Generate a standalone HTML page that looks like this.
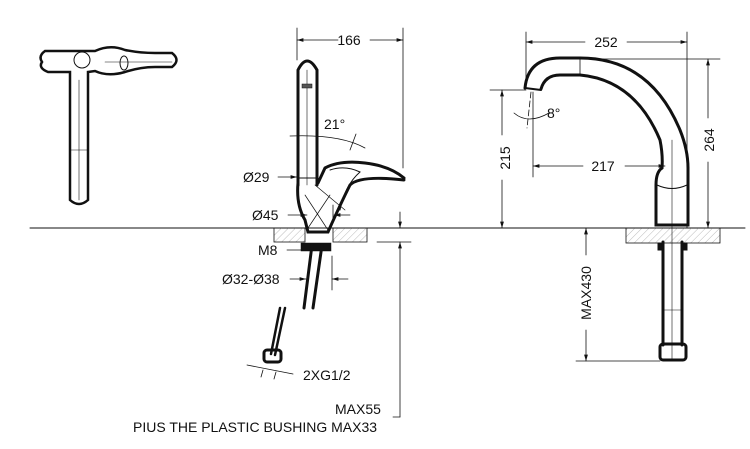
<!DOCTYPE html>
<html><head><meta charset="utf-8"><style>
html,body{margin:0;padding:0;background:#fff}
svg{display:block}
text{font-family:"Liberation Sans",sans-serif;font-size:14px;fill:#111}
</style></head><body>
<svg width="750" height="449" viewBox="0 0 750 449" xmlns="http://www.w3.org/2000/svg">
<defs>
<pattern id="h" width="5" height="5" patternUnits="userSpaceOnUse" patternTransform="rotate(45)"><line x1="0" y1="0" x2="0" y2="5" stroke="#bbb" stroke-width="1"/></pattern>
<marker id="a" viewBox="0 0 10 6" refX="10" refY="3" markerWidth="8" markerHeight="5" orient="auto-start-reverse"><path d="M0,0L10,3L0,6z" fill="#111"/></marker>
</defs>
<g fill="none" stroke="#111" stroke-linecap="round">
<!-- Top view -->
<path d="M45,51 L95,51 Q110,44 125,50 Q140,53 155,53 L172,53 Q181,60 172,67 L155,67 Q140,67 125,72 Q108,77 95,71 L88,72 L88,200 Q79,208 70,200 L70,72 L48,72 Q38,68 42,62 Q38,56 45,51 Z" stroke-width="2.5"/>
<line x1="79" y1="80" x2="79" y2="200" stroke-width="0.6"/>
<line x1="70" y1="150" x2="88" y2="150" stroke-width="0.6"/>
<line x1="105" y1="62" x2="172" y2="62" stroke-width="0.6"/>
<ellipse cx="124" cy="63" rx="4" ry="7" stroke-width="1"/>
<circle cx="82" cy="60" r="8" stroke-width="1"/>
<!-- counter line -->
<line x1="30" y1="228" x2="745" y2="228" stroke-width="1"/>
<!-- middle faucet plate -->
<rect x="274" y="228" width="31" height="14" fill="url(#h)" stroke-width="0.8"/>
<rect x="333" y="228" width="34" height="14" fill="url(#h)" stroke-width="0.8"/>
<!-- lever -->
<path d="M298,185 L298,70 Q307,52 317,70 L317,185" stroke-width="3"/>
<line x1="307" y1="70" x2="307" y2="185" stroke-width="0.6"/>
<rect x="302" y="84" width="10" height="4" fill="#555" stroke-width="0.5"/>
<!-- body -->
<path d="M298,183 Q296,205 305,220 L308,232 L328,232 Q340,205 350,185 Q360,175 404,180" stroke-width="3"/>
<path d="M318,183 L325,168 Q340,160 365,163 Q390,166 404,178" stroke-width="3"/>
<path d="M330,170 Q345,165 360,172 Q345,185 340,210" stroke-width="1"/>
<path d="M305,195 L328,230 M330,195 L308,228 M315,185 L345,210" stroke-width="0.7"/>
<line x1="299" y1="178" x2="317" y2="178" stroke-width="1"/>
<!-- hose below -->
<rect x="301" y="243" width="30" height="8" fill="#111" stroke-width="0.5"/>
<path d="M312,245 L304,308 M322,245 L313,308" stroke-width="3"/>
<path d="M285,308 L275,355 M280,308 L271,354" stroke-width="2.5"/>
<rect x="264" y="350" width="17" height="12" rx="3" stroke-width="3"/>
<!-- dimension 166 -->
<line x1="297" y1="28" x2="297" y2="60" stroke-width="0.8"/>
<line x1="403" y1="28" x2="403" y2="168" stroke-width="0.8"/>
<line x1="297" y1="40" x2="338" y2="40" stroke-width="0.8" marker-start="url(#a)"/>
<line x1="370" y1="40" x2="403" y2="40" stroke-width="0.8" marker-end="url(#a)"/>
<!-- 21° -->
<path d="M290,136 Q340,134 365,148" stroke-width="0.8"/>
<line x1="350" y1="150" x2="356" y2="134" stroke-width="0.8"/>
<!-- Ø29 Ø45 -->
<line x1="278" y1="177" x2="297" y2="177" stroke-width="0.8" marker-end="url(#a)"/>
<line x1="288" y1="215" x2="307" y2="215" stroke-width="0.8" marker-end="url(#a)"/>
<line x1="350" y1="215" x2="334" y2="215" stroke-width="0.8" marker-end="url(#a)"/>
<line x1="333" y1="205" x2="333" y2="222" stroke-width="0.8"/>
<line x1="287" y1="250" x2="301" y2="250" stroke-width="0.8"/>
<line x1="290" y1="279" x2="306" y2="279" stroke-width="0.8" marker-end="url(#a)"/>
<line x1="348" y1="279" x2="332" y2="279" stroke-width="0.8" marker-end="url(#a)"/>
<line x1="332" y1="256" x2="332" y2="290" stroke-width="0.8"/>
<!-- 2XG1/2 -->
<line x1="247" y1="365" x2="293" y2="374" stroke-width="0.8"/>
<line x1="263" y1="370" x2="261" y2="377" stroke-width="0.8"/>
<line x1="276" y1="372" x2="274" y2="379" stroke-width="0.8"/>
<!-- MAX55 -->
<line x1="400" y1="212" x2="400" y2="228" stroke-width="0.8" marker-end="url(#a)"/>
<line x1="400" y1="417" x2="400" y2="242" stroke-width="0.8" marker-end="url(#a)"/>
<line x1="377" y1="242" x2="411" y2="242" stroke-width="0.8"/>
<line x1="400" y1="417" x2="393" y2="417" stroke-width="0.8"/>
<!-- right faucet -->
<rect x="626" y="228" width="94" height="15" fill="url(#h)" stroke-width="0.8"/>
<path d="M525,88 Q528,58 560,58 L580,58 Q650,58 680,130 Q688,150 688,168" stroke-width="3"/>
<path d="M541,89 Q545,75 560,75 L580,75 Q635,80 660,140 Q663,155 662,168" stroke-width="3"/>
<line x1="525" y1="88" x2="541" y2="90" stroke-width="2"/>
<line x1="580" y1="58" x2="580" y2="75" stroke-width="0.8"/>
<path d="M662,168 Q656,172 656,185 L656,225 L688,225 L688,185 Q688,172 688,168" stroke-width="3"/>
<path d="M657,185 Q672,192 687,185" stroke-width="1"/>
<line x1="672" y1="140" x2="672" y2="360" stroke-width="0.6"/>
<path d="M663,242 L663,345 M682,242 L682,345" stroke-width="3"/>
<rect x="658" y="243" width="6" height="7" fill="#111"/>
<rect x="681" y="243" width="6" height="7" fill="#111"/>
<rect x="660" y="344" width="26" height="16" rx="3" stroke-width="3"/>
<line x1="663" y1="310" x2="682" y2="310" stroke-width="0.6"/>
<!-- 252 -->
<line x1="526" y1="32" x2="526" y2="88" stroke-width="0.8"/>
<line x1="687" y1="32" x2="687" y2="228" stroke-width="0.8"/>
<line x1="526" y1="42" x2="585" y2="42" stroke-width="0.8" marker-start="url(#a)"/>
<line x1="627" y1="42" x2="687" y2="42" stroke-width="0.8" marker-end="url(#a)"/>
<!-- 264 -->
<line x1="580" y1="59" x2="720" y2="59" stroke-width="0.8"/>
<line x1="708" y1="118" x2="708" y2="59" stroke-width="0.8" marker-end="url(#a)"/>
<line x1="708" y1="162" x2="708" y2="228" stroke-width="0.8" marker-end="url(#a)"/>
<!-- 215 -->
<line x1="490" y1="90" x2="526" y2="90" stroke-width="0.8"/>
<line x1="502" y1="135" x2="502" y2="90" stroke-width="0.8" marker-end="url(#a)"/>
<line x1="502" y1="180" x2="502" y2="228" stroke-width="0.8" marker-end="url(#a)"/>
<!-- 217 -->
<line x1="533" y1="92" x2="533" y2="177" stroke-width="0.8"/>
<line x1="583" y1="166" x2="533" y2="166" stroke-width="0.8" marker-end="url(#a)"/>
<line x1="625" y1="166" x2="665" y2="166" stroke-width="0.8" marker-end="url(#a)"/>
<!-- 8° -->
<path d="M514,113 Q528,125 549,113" stroke-width="0.8"/>
<line x1="531" y1="92" x2="527" y2="128" stroke-width="0.8" stroke-dasharray="6,3"/>
<!-- MAX430 -->
<line x1="586" y1="255" x2="586" y2="228" stroke-width="0.8" marker-end="url(#a)"/>
<line x1="586" y1="330" x2="586" y2="361" stroke-width="0.8" marker-end="url(#a)"/>
<line x1="576" y1="361" x2="660" y2="361" stroke-width="0.8"/>
</g>
<text x="349" y="45" text-anchor="middle">166</text>
<text x="324" y="129">21°</text>
<text x="243" y="182">Ø29</text>
<text x="252" y="220">Ø45</text>
<text x="258" y="255">M8</text>
<text x="222" y="284">Ø32-Ø38</text>
<text x="303" y="380">2XG1/2</text>
<text x="335" y="414">MAX55</text>
<text x="133" y="432">PIUS THE PLASTIC BUSHING MAX33</text>
<text x="606" y="47" text-anchor="middle">252</text>
<text x="547" y="118">8°</text>
<text x="603" y="171" text-anchor="middle">217</text>
<text transform="translate(510,158) rotate(-90)" text-anchor="middle">215</text>
<text transform="translate(714,140) rotate(-90)" text-anchor="middle">264</text>
<text transform="translate(591,293) rotate(-90)" text-anchor="middle">MAX430</text>
</svg>
</body></html>
